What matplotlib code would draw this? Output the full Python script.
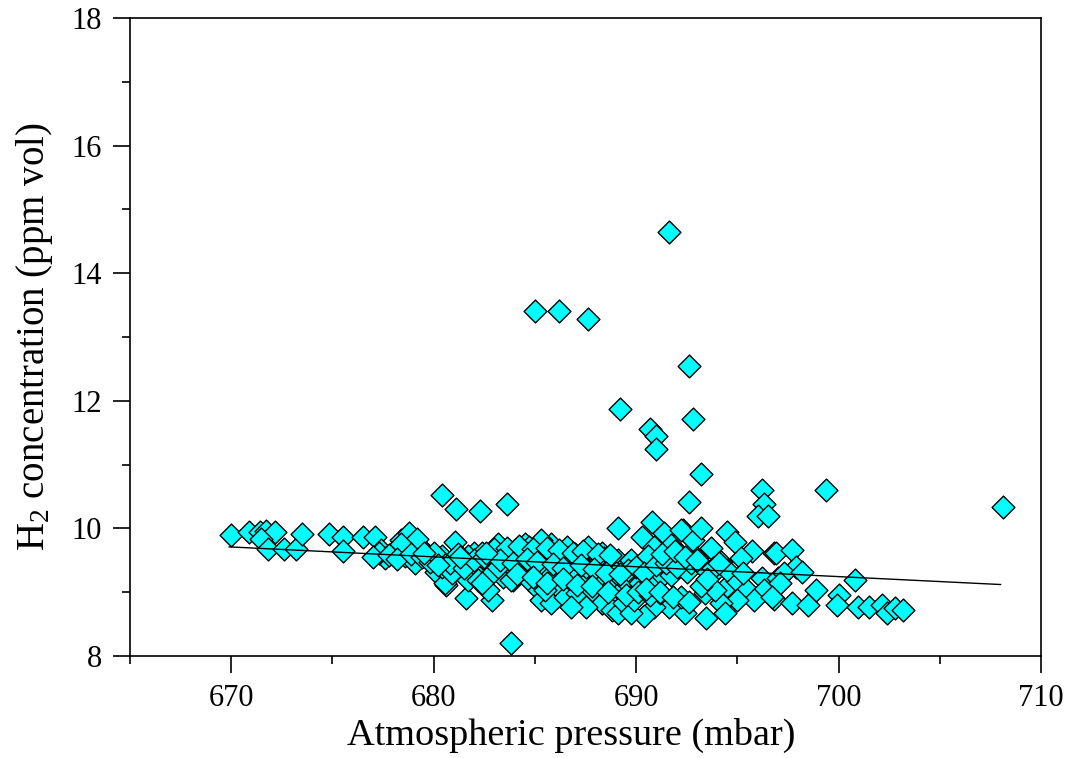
import numpy as np
import matplotlib.pyplot as plt
from matplotlib.ticker import MultipleLocator

plt.rcParams['font.family'] = ['Liberation Serif', 'DejaVu Serif']
plt.rcParams['mathtext.fontset'] = 'custom'
plt.rcParams['mathtext.rm'] = 'Liberation Serif'
plt.rcParams['mathtext.default'] = 'regular'

# давление (мбар) и концентрация H2 (ppm vol)
davlenie = [
    669.97, 670.9, 671.4, 671.7, 672.15, 671.45, 671.8, 672.6, 673.2, 673.5,
    674.85, 675.5, 675.5, 676.5, 677.1, 677.4, 677.6, 677.3, 678.4, 678.8,
    679.2, 678.1, 678.6, 679.1, 679.7, 680.3, 681.05, 680.7, 680.6, 681.6,
    681.4, 681.9, 682.0, 681.7, 680.1, 680.56, 682.9, 679.6, 680.4, 680.9,
    680.4, 682.2, 682.7, 683.2, 684.5, 685.8, 686.6, 685.3, 684.7, 684.0,
    683.5, 682.4, 681.7, 682.7, 683.4, 683.4, 683.9, 684.3, 685.0, 684.7,
    685.2, 685.7, 685.3, 686.1, 686.6, 687.0, 687.5, 687.6, 687.95, 688.3,
    688.9, 688.6, 688.9, 686.8, 687.5, 685.8, 687.95, 688.3, 688.6, 678.4,
    680.1, 687.6, 685.4, 685.8, 683.8, 686.1, 685.5, 686.5, 687.1, 687.8,
    688.3, 687.5, 686.8, 688.8, 689.1, 689.4, 688.1, 688.8, 689.3, 687.5,
    688.4, 688.4, 689.1, 689.6, 684.7, 685.2, 684.0, 682.9, 682.4, 683.5,
    690.3, 691.4, 692.3, 692.8, 694.5, 694.9, 695.7, 695.2, 696.8, 693.7,
    690.9, 691.7, 689.75, 690.6, 692.2, 693.0, 694.2, 696.2, 697.0, 689.4,
    690.2, 691.1, 691.7, 692.5, 693.7, 694.5, 695.0, 695.5, 696.3, 696.8,
    695.8, 695.0, 694.2, 694.4, 693.45, 692.4, 691.6, 690.9, 690.4, 689.75,
    689.9, 691.2, 692.2, 693.4, 693.9, 690.8, 693.2,
    696.9, 697.7, 697.9, 697.3, 698.2, 697.1, 696.7, 697.7, 698.5, 698.9,
    700.0, 699.9, 700.8, 700.95, 701.5, 702.15, 702.4, 702.8, 703.2,
    677.0, 677.8, 678.2, 678.9, 679.4, 679.8, 680.0, 680.8, 681.2, 681.5,
    682.0, 682.5, 683.0, 683.2, 683.7, 684.0, 684.8, 685.5, 686.0, 686.3,
    687.0, 687.2, 688.0, 688.7, 689.0, 689.6, 690.0, 690.4, 691.0, 691.5,
    692.0, 692.7, 693.3, 693.8, 694.5, 695.3,
    # плотная часть облака
    683.0, 683.6, 684.2, 684.9, 685.6, 686.2, 686.9, 687.4, 688.1, 688.7,
    683.3, 683.9, 684.6, 685.1, 685.9, 686.4, 687.3, 687.9, 688.5, 689.2,
    684.1, 684.9, 685.6, 686.4, 687.1, 687.8, 688.6, 689.5, 690.1, 690.7,
    691.3, 691.9, 692.4, 693.0, 690.5, 691.2, 691.8, 692.6, 693.5, 694.1,
    682.6, 681.3, 680.2, 679.5,
    # выбросы
    691.6, 685.0, 686.2, 687.6, 692.6, 689.2, 692.8, 690.7, 691.0, 691.0,
    693.2, 692.6, 680.4, 681.1, 682.3, 683.6, 696.2, 696.3, 696.0, 696.5,
    699.4, 708.1, 683.8, 689.1, 690.8, 692.2, 693.2,
]
h2 = [
    9.90, 9.94, 9.95, 9.96, 9.94, 9.83, 9.67, 9.67, 9.67, 9.91,
    9.91, 9.87, 9.65, 9.87, 9.87, 9.66, 9.53, 9.62, 9.82, 9.92,
    9.83, 9.66, 9.56, 9.45, 9.58, 9.50, 9.79, 9.32, 9.11, 8.91,
    9.45, 9.35, 9.61, 9.19, 9.32, 9.14, 8.87, 9.61, 9.40, 9.30,
    9.56, 9.19, 9.03, 9.76, 9.76, 9.76, 9.71, 9.82, 9.71, 9.66,
    9.56, 9.61, 9.56, 9.45, 9.40, 9.24, 9.19, 9.50, 9.35, 9.19,
    9.03, 9.09, 8.88, 8.93, 9.09, 9.30, 9.50, 9.19, 9.03, 8.83,
    8.77, 9.09, 9.45, 8.83, 8.83, 8.83, 9.56, 9.61, 9.53, 9.76,
    9.56, 9.71, 9.35, 9.27, 9.19, 9.09, 9.03, 8.93, 8.98, 9.03,
    8.83, 8.77, 8.77, 8.72, 8.67, 8.83, 9.19, 9.09, 9.03, 9.40,
    9.35, 9.53, 9.50, 9.45, 9.40, 9.53, 9.35, 9.30, 9.14, 9.50,
    9.87, 9.92, 9.98, 9.82, 9.95, 9.79, 9.64, 9.53, 9.61, 9.69,
    9.71, 9.74, 9.50, 9.56, 9.58, 9.53, 9.48, 9.22, 9.22, 9.19,
    9.14, 9.19, 9.27, 9.32, 9.27, 9.09, 9.17, 9.03, 9.03, 8.90,
    8.88, 8.88, 8.83, 8.67, 8.59, 8.67, 8.77, 8.77, 8.62, 8.67,
    8.88, 8.98, 8.93, 8.98, 9.03, 9.06, 9.09,
    9.61, 9.66, 9.40, 9.30, 9.32, 9.14, 8.93, 8.83, 8.80, 9.03,
    8.96, 8.80, 9.19, 8.76, 8.76, 8.80, 8.67, 8.75, 8.72,
    9.55, 9.58, 9.52, 9.60, 9.55, 9.48, 9.62, 9.45, 9.60, 9.38,
    9.50, 9.55, 9.60, 9.40, 9.65, 9.55, 9.60, 9.60, 9.55, 9.45,
    9.60, 9.48, 9.42, 9.38, 9.30, 9.35, 9.40, 9.30, 9.42, 9.45,
    9.40, 9.45, 9.40, 9.38, 9.35, 9.30,
    9.68, 9.70, 9.72, 9.68, 9.70, 9.66, 9.62, 9.64, 9.60, 9.58,
    9.50, 9.45, 9.52, 9.47, 9.44, 9.38, 9.42, 9.36, 9.30, 9.28,
    9.28, 9.24, 9.15, 9.20, 9.12, 9.10, 9.00, 8.95, 9.00, 8.95,
    9.60, 9.65, 9.55, 9.50, 9.05, 9.00, 8.92, 8.85, 9.20, 9.45,
    9.62, 9.55, 9.42, 9.62,
    14.65, 13.40, 13.40, 13.28, 12.55, 11.87, 11.72, 11.55, 11.45, 11.25,
    10.85, 10.42, 10.53, 10.30, 10.27, 10.38, 10.60, 10.38, 10.20, 10.20,
    10.60, 10.34, 8.20, 10.00, 10.10, 9.98, 10.00,
]

# линия тренда
trend_x = [669.9, 708.0]
trend_y = [9.71, 9.12]

fig = plt.figure(figsize=(10.71, 7.58), dpi=100)
ax = fig.add_axes([0.1214, 0.1346, 0.8506, 0.8417])

ax.scatter(davlenie, h2, marker='D', s=135, facecolor='#00FFFF',
           edgecolor='black', linewidth=1.0, zorder=2)
ax.plot(trend_x, trend_y, color='black', linewidth=1.0, zorder=3)

ax.set_xlim(665, 710)
ax.set_ylim(8, 18)
ax.xaxis.set_major_locator(MultipleLocator(10))
ax.xaxis.set_minor_locator(MultipleLocator(5))
ax.yaxis.set_major_locator(MultipleLocator(2))
ax.yaxis.set_minor_locator(MultipleLocator(1))
ax.tick_params(which='both', direction='out', top=False, right=False,
               width=1.2, labelsize=22)
ax.tick_params(which='major', length=12, pad=8)
ax.tick_params(which='minor', length=6)
for sp in ax.spines.values():
    sp.set_linewidth(1.2)

ax.set_xlabel("Atmospheric pressure (mbar)", fontsize=27.5, labelpad=4)
ax.xaxis.label.set_x(0.484)
ax.set_ylabel(r"H$_2$ concentration (ppm vol)", fontsize=28, labelpad=12)

fig.savefig("out.png", dpi=100)
